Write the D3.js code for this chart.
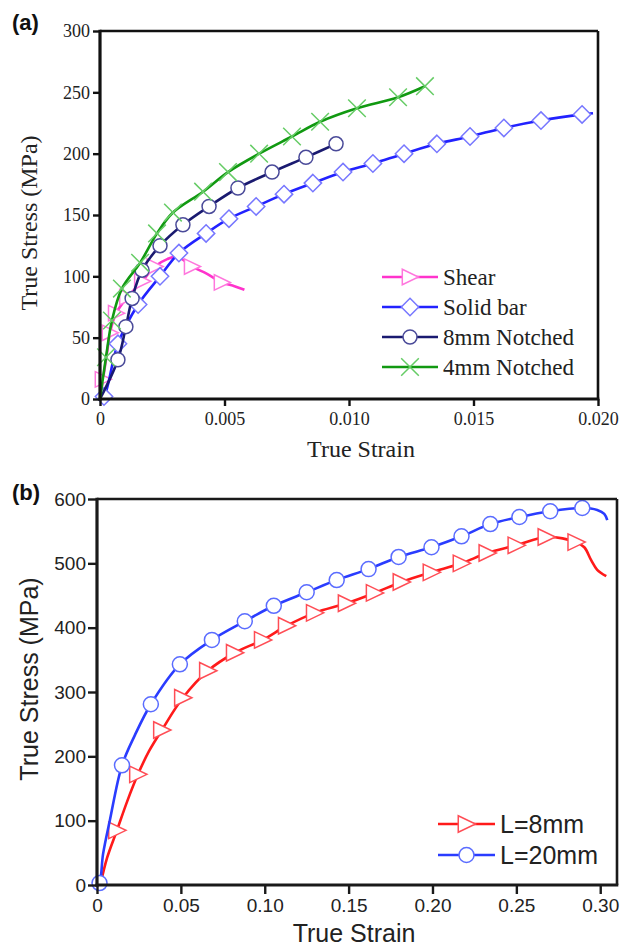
<!DOCTYPE html>
<html>
<head>
<meta charset="utf-8">
<script src="https://cdn.jsdelivr.net/npm/d3@7"></script>
<style>
  html, body { margin: 0; padding: 0; background: #fff; }
  svg { display: block; }
</style>
</head>
<body>
<svg id="chart" width="632" height="947"></svg>
<script>
// ---------------- DATA ----------------
// Panel (a): [strain, stress(MPa), marker?]
const shearA = [[0,0,0],[0.00012,16,1],[0.0003,40,0],[0.0004,54,1],[0.00065,70,1],[0.0011,83,1],[0.0017,96,1],[0.0022,108,1],[0.0027,114,0],[0.0031,116,0],[0.0037,108,1],[0.0043,102,0],[0.0049,95,1],[0.0054,92,0],[0.0058,89,0]];
const solidBarA = [[0,0,0],[0.00016,2,1],[0.00072,45,1],[0.00153,77,1],[0.00241,100,1],[0.00317,119,1],[0.00426,135,1],[0.00518,147,1],[0.00627,157,1],[0.00739,167,1],[0.00855,176,1],[0.00976,185,1],[0.01096,192,1],[0.01221,200,1],[0.01353,208,1],[0.01486,214,1],[0.01622,221,1],[0.01771,227,1],[0.01936,232,1],[0.0198,233,0]];
const notched8A = [[0,0,0],[0.00072,32,1],[0.00104,59,1],[0.00129,82,1],[0.00169,105,1],[0.00241,125,1],[0.00333,142,1],[0.00438,157,1],[0.00554,172,1],[0.00691,185,1],[0.00827,197,1],[0.00948,208,1]];
const notched4A = [[0,0,0],[0.00024,34,1],[0.00048,64,1],[0.00088,90,1],[0.00161,111,1],[0.00229,135,1],[0.00293,152,1],[0.00414,169,1],[0.00514,185,1],[0.00639,200,1],[0.00771,214,1],[0.00884,226,1],[0.01032,237,1],[0.01197,246,1],[0.01305,255,1]];
const seriesNamesA = ["Shear", "Solid bar", "8mm Notched", "4mm Notched"];
const xTicksA = [0, 0.005, 0.010, 0.015, 0.020];
const xTickLabelsA = ["0", "0.005", "0.010", "0.015", "0.020"];
const yTicksA = [0, 50, 100, 150, 200, 250, 300];

// Panel (b)
const l8B = [[0.002,0,0],[0.006,42,0],[0.0119,85,1],[0.018,130,0],[0.0244,172,1],[0.031,208,0],[0.0387,241,1],[0.0512,291,1],[0.0661,333,1],[0.0821,361,1],[0.0988,381,1],[0.1131,403,1],[0.1298,423,1],[0.1488,438,1],[0.1655,454,1],[0.1815,471,1],[0.1994,486,1],[0.2173,500,1],[0.2327,516,1],[0.25,528,1],[0.2679,541,1],[0.2857,533,1],[0.2905,525,0],[0.2946,505,0],[0.2982,490,0],[0.3036,480,0]];
const l20B = [[0,0,0],[0.0015,3,1],[0.0036,48,0],[0.0077,101,0],[0.0149,186,1],[0.0226,233,0],[0.0321,281,1],[0.0494,343,1],[0.0685,381,1],[0.0881,410,1],[0.1054,434,1],[0.125,455,1],[0.1429,474,1],[0.1619,491,1],[0.1798,510,1],[0.1994,525,1],[0.2173,542,1],[0.2345,561,1],[0.2518,572,1],[0.2702,581,1],[0.2893,586,1],[0.2982,583,0],[0.3024,577,0],[0.3042,567,0]];
const seriesNamesB = ["L=8mm", "L=20mm"];
const xTicksB = [0, 0.05, 0.10, 0.15, 0.20, 0.25, 0.30];
const xTickLabelsB = ["0", "0.05", "0.10", "0.15", "0.20", "0.25", "0.30"];
const yTicksB = [0, 100, 200, 300, 400, 500, 600];

// ---------------- DRAW ----------------
const svg = d3.select("#chart");
const SERIF = "'Liberation Serif', 'Times New Roman', serif";
const SANS = "'Liberation Sans', Arial, sans-serif";

function markerPath(type, size) {
  const s = size;
  if (type === "triangle") return `M${-s*0.55},${-s*0.55} L${s*0.6},0 L${-s*0.55},${s*0.55} Z`;
  if (type === "diamond") return `M0,${-s*0.62} L${s*0.62},0 L0,${s*0.62} L${-s*0.62},0 Z`;
  if (type === "cross") return `M${-s*0.55},${-s*0.55} L${s*0.55},${s*0.55} M${-s*0.55},${s*0.55} L${s*0.55},${-s*0.55}`;
  return null;
}

function drawMarker(g, type, x, y, size, stroke, sw) {
  if (type === "circle") {
    g.append("circle").attr("cx", x).attr("cy", y).attr("r", size / 2)
      .attr("fill", "#fff").attr("stroke", stroke).attr("stroke-width", sw);
  } else {
    g.append("path").attr("d", markerPath(type, size))
      .attr("transform", `translate(${x},${y})`)
      .attr("fill", type === "cross" ? "none" : "#fff")
      .attr("stroke", stroke).attr("stroke-width", sw);
  }
}

function panel(cfg) {
  const x = d3.scaleLinear().domain(cfg.xDomain).range([cfg.left, cfg.right]);
  const y = d3.scaleLinear().domain(cfg.yDomain).range([cfg.bottom, cfg.top]);
  const g = svg.append("g");

  const line = d3.line().x(d => x(d[0])).y(d => y(d[1])).curve(d3.curveCatmullRom.alpha(0.5));

  cfg.series.forEach(s => {
    g.append("path").attr("d", line(s.data)).attr("fill", "none")
      .attr("stroke", s.line).attr("stroke-width", s.lw || 2.6).attr("stroke-linejoin", "round");
    s.data.filter(d => d[2]).forEach(d => drawMarker(g, s.marker, x(d[0]), y(d[1]), s.size, s.mstroke, 1.5));
  });

  // frame
  const ax = svg.append("g");
  ax.append("line").attr("x1", cfg.left).attr("x2", cfg.right).attr("y1", cfg.top).attr("y2", cfg.top)
    .attr("stroke", cfg.axisColor).attr("stroke-width", 2.6);
  ax.append("line").attr("x1", cfg.right).attr("x2", cfg.right).attr("y1", cfg.top).attr("y2", cfg.bottom)
    .attr("stroke", cfg.axisColor).attr("stroke-width", 2.6);

  const xAxis = d3.axisBottom(x).tickValues(cfg.xTicks).tickFormat((d, i) => cfg.xTickLabels[i])
    .tickSize(cfg.tickLen).tickSizeOuter(0).tickPadding(cfg.xPad);
  const yAxis = d3.axisLeft(y).tickValues(cfg.yTicks).tickFormat(d3.format("d"))
    .tickSize(cfg.tickLen).tickSizeOuter(0).tickPadding(cfg.yPad);

  const gx = ax.append("g").attr("transform", `translate(0,${cfg.bottom})`).call(xAxis);
  const gy = ax.append("g").attr("transform", `translate(${cfg.left},0)`).call(yAxis);
  [gx, gy].forEach(a => {
    a.select(".domain").attr("stroke", cfg.axisColor).attr("stroke-width", 3.2);
    a.selectAll(".tick line").attr("stroke", cfg.axisColor).attr("stroke-width", 2.4);
    a.selectAll(".tick text").attr("fill", "#222").attr("font-family", cfg.font).attr("font-size", cfg.tickFont);
  });
  gx.selectAll(".domain").attr("d", `M${cfg.left - 1.5},0H${cfg.right + 1.3}`);
  gy.selectAll(".domain").attr("d", `M0,${cfg.bottom + 1.5}V${cfg.top - 1.3}`);

  // axis titles
  svg.append("text").attr("x", cfg.xTitleX).attr("y", cfg.xTitleY).attr("text-anchor", "middle")
    .attr("font-family", cfg.font).attr("font-size", cfg.titleFont).attr("fill", "#222").text("True Strain");
  svg.append("text").attr("transform", `translate(${cfg.yTitleX},${cfg.yTitleY}) rotate(-90)`)
    .attr("text-anchor", "middle").attr("font-family", cfg.font).attr("font-size", cfg.titleFont)
    .attr("fill", "#222").text("True Stress (MPa)");

  // panel label
  svg.append("text").attr("x", 12).attr("y", cfg.labelY).attr("font-family", SANS).attr("font-weight", "bold")
    .attr("font-size", 22).attr("fill", "#111").text(cfg.label);

  // legend
  const lg = svg.append("g");
  cfg.series.forEach((s, i) => {
    const yy = cfg.legY + i * cfg.legGap;
    lg.append("line").attr("x1", cfg.legX1).attr("x2", cfg.legX2).attr("y1", yy).attr("y2", yy)
      .attr("stroke", s.line).attr("stroke-width", 2.6);
    drawMarker(lg, s.marker, (cfg.legX1 + cfg.legX2) / 2, yy, s.size, s.mstroke, 1.5);
    lg.append("text").attr("x", cfg.legX2 + 5).attr("y", yy).attr("dy", "0.35em")
      .attr("font-family", cfg.font).attr("font-size", cfg.legFont).attr("fill", "#222").text(cfg.names[i]);
  });
}

panel({
  left: 100, right: 598, top: 31, bottom: 399,
  xDomain: [0, 0.02], yDomain: [0, 300],
  xTicks: xTicksA, xTickLabels: xTickLabelsA, yTicks: yTicksA,
  tickLen: 7, xPad: 6, yPad: 3, axisColor: "#111",
  font: SERIF, tickFont: 18, titleFont: 24,
  xTitleX: 361, xTitleY: 457, yTitleX: 37, yTitleY: 223,
  label: "(a)", labelY: 30,
  legX1: 382, legX2: 438, legY: 277, legGap: 30, legFont: 23,
  names: seriesNamesA,
  series: [
    {data: shearA, line: "#ff33cc", marker: "triangle", size: 14, mstroke: "#ff77dd"},
    {data: solidBarA, line: "#2222ff", marker: "diamond", size: 14, mstroke: "#7777ff"},
    {data: notched8A, line: "#1a1a70", marker: "circle", size: 14, mstroke: "#4a4a99"},
    {data: notched4A, line: "#119911", marker: "cross", size: 16, mstroke: "#66cc66"}
  ]
});

panel({
  left: 97, right: 617, top: 499, bottom: 885,
  xDomain: [0, 0.31], yDomain: [0, 600],
  xTicks: xTicksB, xTickLabels: xTickLabelsB, yTicks: yTicksB,
  tickLen: 9, xPad: 5, yPad: 2, axisColor: "#1a1a1a",
  font: SANS, tickFont: 19, titleFont: 25,
  xTitleX: 354, xTitleY: 942, yTitleX: 38, yTitleY: 679,
  label: "(b)", labelY: 500,
  legX1: 438, legX2: 495, legY: 824, legGap: 31, legFont: 25,
  names: seriesNamesB,
  series: [
    {data: l8B, line: "#ff1a1a", marker: "triangle", size: 15, mstroke: "#ff4d55"},
    {data: l20B, line: "#2a3cff", marker: "circle", size: 15, mstroke: "#5a6cff"}
  ]
});
</script>
</body>
</html>
